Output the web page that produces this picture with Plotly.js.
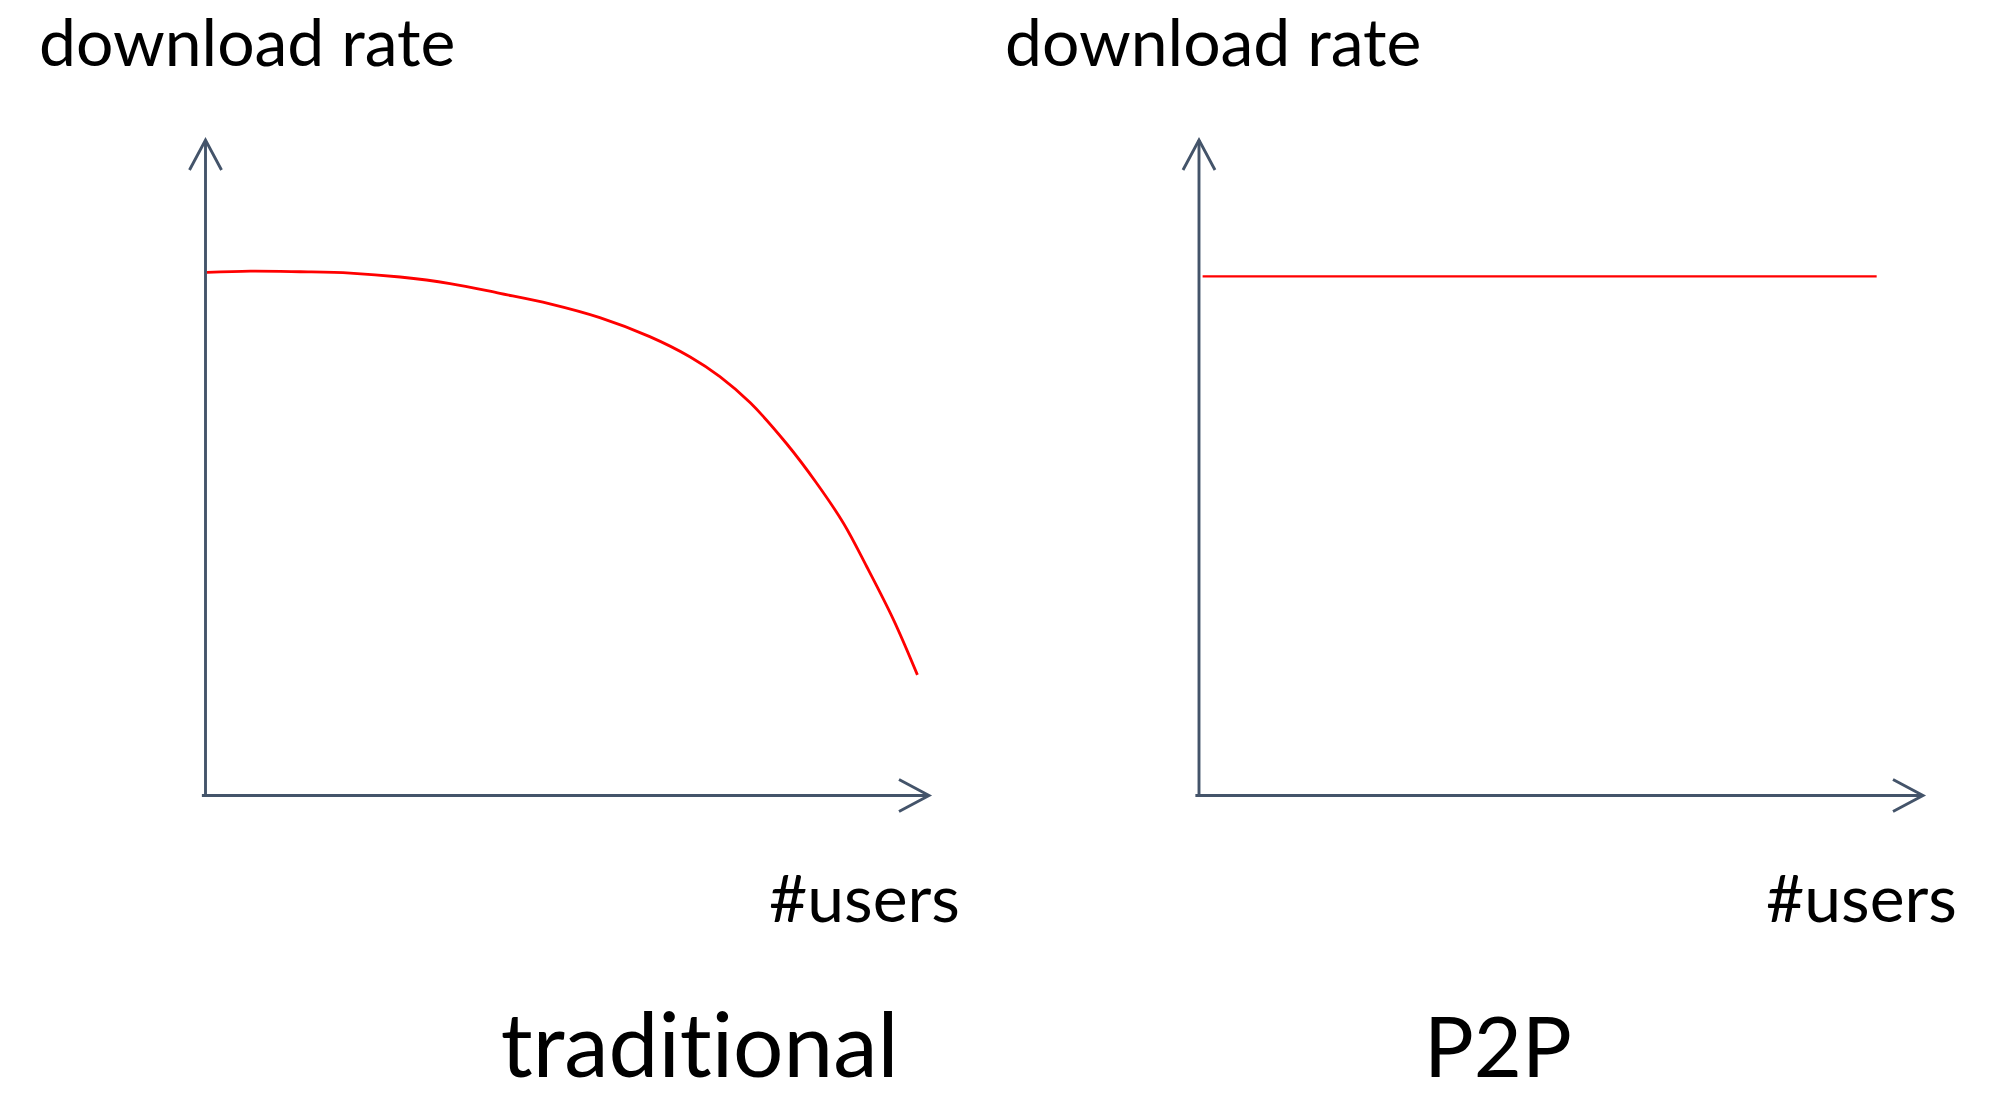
<!DOCTYPE html>
<html>
<head>
<meta charset="utf-8">
<script src="https://cdn.plot.ly/plotly-3.0.1.min.js"></script>
<style>
  html, body { margin: 0; padding: 0; background: #ffffff; }
  #chart { width: 2002px; height: 1120px; }
  #chart text { font-variant-ligatures: none; font-feature-settings: "liga" 0, "clig" 0; }
</style>
</head>
<body>
<div id="chart"></div>
<script>
// ---------------- DATA ----------------
// Traditional client-server: download rate falls as the number of users grows
const usersTraditional = [0.02, 0.62, 1.31, 2.00, 2.69, 3.38, 4.07, 4.76, 5.45, 6.14, 6.70, 7.11, 7.53, 8.03, 8.45, 8.82, 9.14, 9.51, 9.84];
const rateTraditional  = [7.98, 8.00, 7.99, 7.97, 7.91, 7.81, 7.66, 7.50, 7.29, 7.00, 6.69, 6.39, 5.99, 5.37, 4.76, 4.15, 3.49, 2.68, 1.84];
// P2P: download rate stays constant
const usersP2P = [0.05, 9.36];
const rateP2P  = [7.92, 7.92];

// Labels
const yLabel = 'download rate';
const xLabel = '#users';
const panelTitles = ['traditional', 'P2P'];

// ---------------- LAYOUT ----------------
const W = 2002, H = 1120;
const px = v => v / W;
const py = v => 1 - v / H;

const AXIS_COLOR = '#44546A';
const RED = '#FF0000';
const FONT = 'Lato, "Open Sans", sans-serif';
const SMALL = 66, BIG_T = 89, BIG_P = 83;

const axRange = [-1, 11];
const hiddenAxis = {
  range: axRange, showline: false, showgrid: false, zeroline: false,
  showticklabels: false, ticks: '', fixedrange: true
};

const traces = [
  { x: usersTraditional, y: rateTraditional, xaxis: 'x', yaxis: 'y', type: 'scatter', mode: 'lines',
    line: { color: RED, width: 2.8, shape: 'spline', smoothing: 1 }, hoverinfo: 'skip', showlegend: false },
  { x: usersP2P, y: rateP2P, xaxis: 'x2', yaxis: 'y2', type: 'scatter', mode: 'lines',
    line: { color: RED, width: 2.4 }, hoverinfo: 'skip', showlegend: false }
];

function axisShapes(xr, yr) {
  const line = { color: AXIS_COLOR, width: 2.9 };
  return [
    { type: 'line', xref: xr, yref: yr, x0: -0.05, y0: 0, x1: 10, y1: 0, line },
    { type: 'line', xref: xr, yref: yr, x0: 0, y0: 0, x1: 0, y1: 10, line },
    { type: 'path', xref: xr, yref: yr, xsizemode: 'pixel', ysizemode: 'pixel',
      xanchor: 10, yanchor: 0, path: 'M-30,16L0,0L-30,-16', line },
    { type: 'path', xref: xr, yref: yr, xsizemode: 'pixel', ysizemode: 'pixel',
      xanchor: 0, yanchor: 10, path: 'M-16,-30L0,0L16,-30', line }
  ];
}

function txt(text, x, y, size, xanchor) {
  return { text, xref: 'paper', yref: 'paper', x, y, xanchor, yanchor: 'middle',
           showarrow: false, font: { family: FONT, size, color: '#000000' } };
}

const layout = {
  width: W, height: H,
  margin: { l: 0, r: 0, t: 0, b: 0, pad: 0 },
  paper_bgcolor: '#ffffff', plot_bgcolor: 'rgba(0,0,0,0)',
  showlegend: false,
  xaxis:  Object.assign({}, hiddenAxis, { domain: [px(133.15), px(1001.35)], anchor: 'y' }),
  yaxis:  Object.assign({}, hiddenAxis, { domain: [py(861.05), py(74.45)], anchor: 'x' }),
  xaxis2: Object.assign({}, hiddenAxis, { domain: [px(1126.6), px(1995.4)], anchor: 'y2' }),
  yaxis2: Object.assign({}, hiddenAxis, { domain: [py(861.05), py(74.45)], anchor: 'x2' }),
  shapes: axisShapes('x', 'y').concat(axisShapes('x2', 'y2')),
  annotations: [
    txt(yLabel, px(37), py(66 - 0.387 * SMALL), SMALL, 'left'),
    txt(yLabel, px(1003), py(66 - 0.387 * SMALL), SMALL, 'left'),
    txt(xLabel, px(962), py(922 - 0.387 * SMALL), SMALL, 'right'),
    txt(xLabel, px(1959), py(922 - 0.387 * SMALL), SMALL, 'right'),
    txt(panelTitles[0], px(699), py(1077 - 0.387 * BIG_T), BIG_T, 'center'),
    txt(panelTitles[1], px(1497.5), py(1077 - 0.387 * BIG_P), BIG_P, 'center')
  ]
};

Plotly.newPlot('chart', traces, layout, { displayModeBar: false, staticPlot: true });
</script>
</body>
</html>
